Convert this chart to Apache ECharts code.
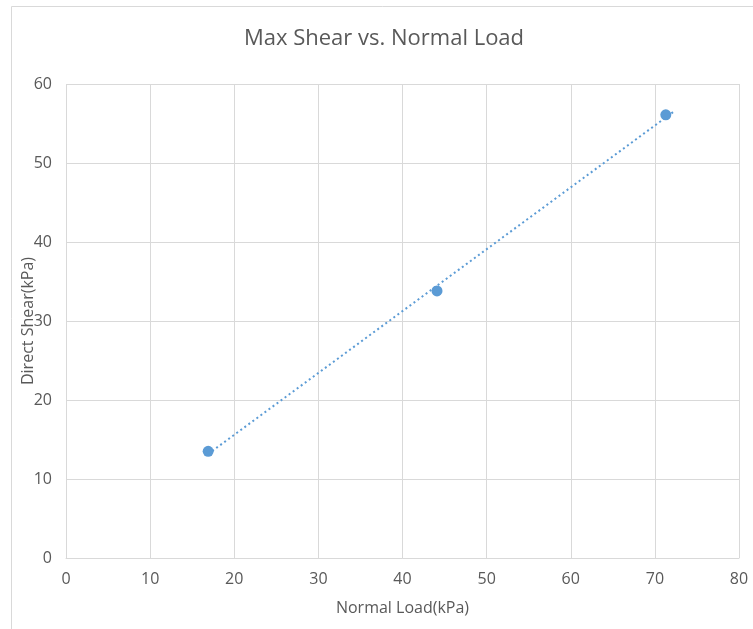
<!DOCTYPE html>
<html>
<head>
<meta charset="utf-8">
<script src="https://cdn.jsdelivr.net/npm/echarts@6/dist/echarts.min.js"></script>
<style>
  html, body { margin: 0; padding: 0; background: #fff; }
  #chart { width: 753px; height: 629px; }
</style>
</head>
<body>
<div id="chart"></div>
<script>
// Measured points: normal load (kPa) against peak direct shear (kPa)
const normalLoad = [16.9, 44.1, 71.3];
const directShear = [13.5, 33.8, 56.1];
// Span covered by the linear trendline
const trendRange = [16.9, 72.2];
const xTicks = [0, 10, 20, 30, 40, 50, 60, 70, 80];
const yTicks = [0, 10, 20, 30, 40, 50, 60];

// Least-squares fit for the trendline
const n = normalLoad.length;
const mx = normalLoad.reduce((a, b) => a + b, 0) / n;
const my = directShear.reduce((a, b) => a + b, 0) / n;
let sxy = 0, sxx = 0;
for (let i = 0; i < n; i++) {
  sxy += (normalLoad[i] - mx) * (directShear[i] - my);
  sxx += (normalLoad[i] - mx) * (normalLoad[i] - mx);
}
const slope = sxy / sxx;
const intercept = my - slope * mx;
const trend = trendRange.map(x => [x, slope * x + intercept]);

const font = '"Open Sans", "Noto Sans", sans-serif';
const grey = '#595959';
const gridCol = '#d9d9d9';
const blue = '#5b9bd5';

const chart = echarts.init(document.getElementById('chart'));
chart.setOption({
  animation: false,
  textStyle: { fontFamily: font },
  graphic: [{
    type: 'rect',
    shape: { x: 11.5, y: 6.5, width: 760, height: 640 },
    style: { fill: 'none', stroke: gridCol, lineWidth: 1 },
    silent: true
  }],
  title: {
    text: 'Max Shear vs. Normal Load',
    left: 379,
    textAlign: 'center',
    top: 23,
    textStyle: { fontFamily: font, fontSize: 22, fontWeight: 'normal', color: grey }
  },
  grid: { left: 66, right: 14, top: 84, bottom: 71 },
  xAxis: {
    type: 'value',
    min: xTicks[0], max: xTicks[xTicks.length - 1], interval: 10,
    name: 'Normal Load(kPa)',
    nameLocation: 'middle',
    nameGap: 42,
    nameMoveOverlap: false,
    nameTextStyle: { fontFamily: font, fontSize: 16, color: grey },
    axisLine: { show: true, lineStyle: { color: gridCol } },
    axisTick: { show: false },
    axisLabel: { fontFamily: font, fontSize: 16, color: grey, margin: 13 },
    splitLine: { show: true, lineStyle: { color: gridCol } }
  },
  yAxis: {
    type: 'value',
    min: yTicks[0], max: yTicks[yTicks.length - 1], interval: 10,
    name: 'Direct Shear(kPa)',
    nameLocation: 'middle',
    nameGap: 30,
    nameMoveOverlap: false,
    nameTextStyle: { fontFamily: font, fontSize: 16, color: grey },
    axisLine: { show: false },
    axisTick: { show: false },
    axisLabel: { fontFamily: font, fontSize: 16, color: grey, margin: 14 },
    splitLine: { show: true, lineStyle: { color: gridCol } }
  },
  series: [
    {
      type: 'line',
      data: trend,
      symbol: 'none',
      lineStyle: { color: blue, width: 2, type: [2, 3] },
      z: 2
    },
    {
      type: 'scatter',
      data: normalLoad.map((x, i) => [x, directShear[i]]),
      symbol: 'circle',
      symbolSize: 11,
      itemStyle: { color: blue, opacity: 1 },
      z: 3
    }
  ]
});
</script>
</body>
</html>
